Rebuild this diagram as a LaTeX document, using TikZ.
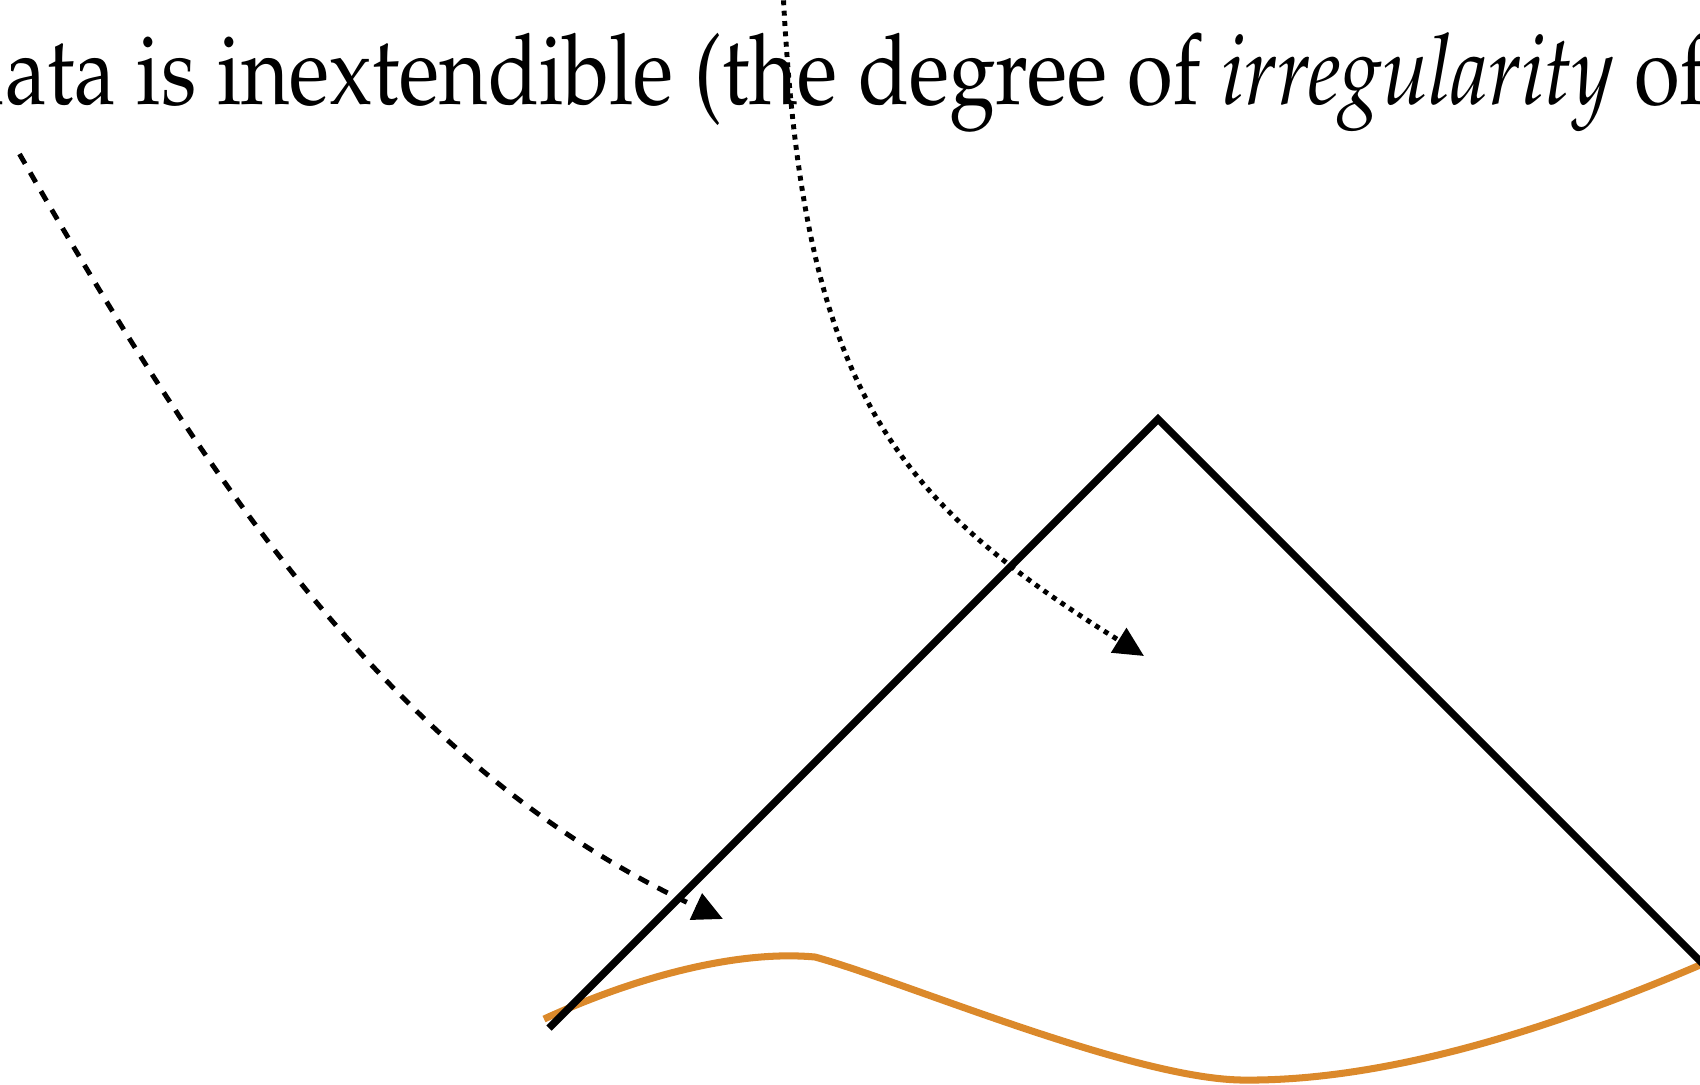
\documentclass[tikz,border=0pt]{standalone}
\usepackage[T1]{fontenc}
\usepackage{mathpazo}
\usepackage{graphicx}
\usetikzlibrary{arrows.meta}
\definecolor{cauchyorange}{RGB}{219,137,43}

\begin{document}
\begin{tikzpicture}[
    x=0.1mm, y=-0.1mm,
    cone/.style={line width=2.1pt, line join=miter},
    surface/.style={line width=2pt, cauchyorange},
    tipped/.style={-{Triangle[length=8.5pt,width=8pt]}},
    dasharrow/.style={tipped, line width=1.4pt, dash pattern=on 3.2pt off 2.9pt},
    dotarrow/.style={tipped, line width=1.4pt, dash pattern=on 1.4pt off 1.55pt}
]
\useasboundingbox (0,0) rectangle (1700,1084);
\clip (0,0) rectangle (1700,1084);
\node[anchor=base west, inner sep=0pt, font=\fontsize{23.7}{28}\selectfont] (caption) at (-46,104)
    {\scalebox{1}[1.18]{data is inextendible (the degree of \textit{irregularity} of the}};
% light cone and initial surface
\coordinate (leftfoot) at (549,1028);
\coordinate (apex) at (1158,419);
\coordinate (rightfoot) at (1712,973);
\draw[surface] (544,1019) .. controls (640,975) and (740,950) .. (815,957)
    .. controls (900,980) and (1130,1078) .. (1241,1080)
    .. controls (1390,1082) and (1560,1025) .. (1700,965) -- (1720,956);
\draw[cone] (leftfoot) -- (apex) -- (rightfoot);
% pointers from the text
\coordinate (dashstart) at (19.5,154);
\coordinate (dashend) at (723,919);
\coordinate (dotstart) at (783,-10);
\coordinate (dotend) at (1144,656);
\draw[dasharrow] (dashstart) .. controls (219,502) and (404,772) .. (dashend);
\draw[dotarrow] (dotstart) .. controls (802,385) and (889,497) .. (dotend);
\end{tikzpicture}
\end{document}
